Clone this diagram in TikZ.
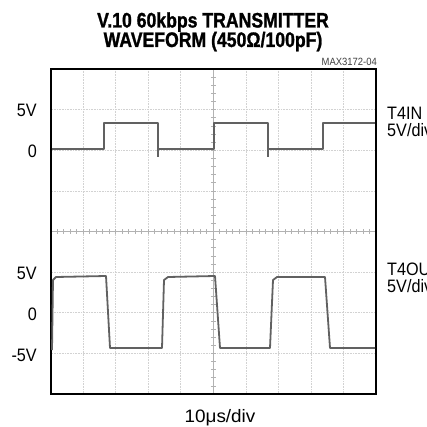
\documentclass[tikz,border=0pt]{standalone}
\usepackage{fontspec}
\setmainfont{Liberation Sans}[FakeStretch=0.9]
\newfontfamily\titlefont{Liberation Sans}[FakeStretch=0.84, FakeBold=1.2]
\newfontfamily\widefont{Liberation Sans}[FakeStretch=1.05]
\usetikzlibrary{calc}

\tikzset{
 gridline/.style={gray!35, line width=.6pt, densely dotted},
 axisline/.style={gray!60, line width=.8pt},
 tickmark/.style={gray!60, line width=.6pt},
 trace/.style={black!62, line width=1.8pt, line join=round},
 lbl/.style={font=\fontsize{18}{18}\selectfont, inner sep=0pt},
}

\begin{document}
\begin{tikzpicture}[x=1pt, y=-1pt]
\useasboundingbox (0,0) rectangle (427,427);
\coordinate (O) at (50.5,69);
\coordinate (C) at (213.25,231.5);
% grid, 10 x 8 divisions
\foreach \i in {1,...,9}
 \draw[gridline] ($(O)+({32.55*\i},0)$) --++(0,325);
\foreach \j in {1,...,7}
 \draw[gridline] ($(O)+(0,{40.625*\j})$) --++(325.5,0);
\draw[axisline] (C-|O) --++(325.5,0);
\draw[axisline] (C|-O) --++(0,325);
\foreach \i in {1,...,49}
 \draw[tickmark] ($(C-|O)+({6.51*\i},-2.5)$) --++(0,5);
\foreach \j in {1,...,39}
 \draw[tickmark] ($(C|-O)+(-2.5,{8.125*\j})$) --++(5,0);
\draw[line width=2pt] (O) rectangle ++(325.5,325);

% T4IN
\draw[trace] (51.5,149)--(104,149)--(104,123)--(158,123)--(158,157);
\draw[trace] (158,149)--(214,149)--(214,123)--(268,123)--(268,157);
\draw[trace] (268,149)--(323,149)--(323,123)--(375,123);
% T4OUT
\draw[trace] (52,350)--(53,280)--(56,277)--(106,276)--(110,348)--(162,348)
 --(164,280)--(168,277)--(215,276)--(220,348)--(270,348)
 --(273,280)--(277,277)--(325,277)--(330,348)--(375,348);

% texts
\node[font=\titlefont\bfseries\fontsize{21}{21}\selectfont, anchor=base, inner sep=0pt]
 (title1) at (213,27.5) {V.10 60kbps TRANSMITTER};
\node[font=\titlefont\bfseries\fontsize{21}{21}\selectfont, anchor=base, inner sep=0pt]
 (title2) at (213,47) {WAVEFORM (450Ω/100pF)};
\node[font=\fontsize{10.5}{10.5}\selectfont, anchor=base east, inner sep=0pt, black!75]
 (code) at (377,65.5) {MAX3172-04};
\node[lbl, anchor=base east] (v5a) at (37,116.5) {5V};
\node[lbl, anchor=base east] (v0a) at (37,157.5) {0};
\node[lbl, anchor=base east] (v5b) at (37,279) {5V};
\node[lbl, anchor=base east] (v0b) at (37,320) {0};
\node[lbl, anchor=base east] (vm5b) at (37,361) {-5V};
\node[lbl, anchor=base west] (inname) at (387,120) {T4IN};
\node[lbl, anchor=base west] (indiv) at (387,137) {5V/div};
\node[lbl, anchor=base west] (outname) at (387,275.7) {T4OUT};
\node[lbl, anchor=base west] (outdiv) at (387,292.3) {5V/div};
\node[lbl, font=\widefont\fontsize{18}{18}\selectfont, anchor=base] (tdiv) at (220,422) {10μs/div};
\end{tikzpicture}
\end{document}
